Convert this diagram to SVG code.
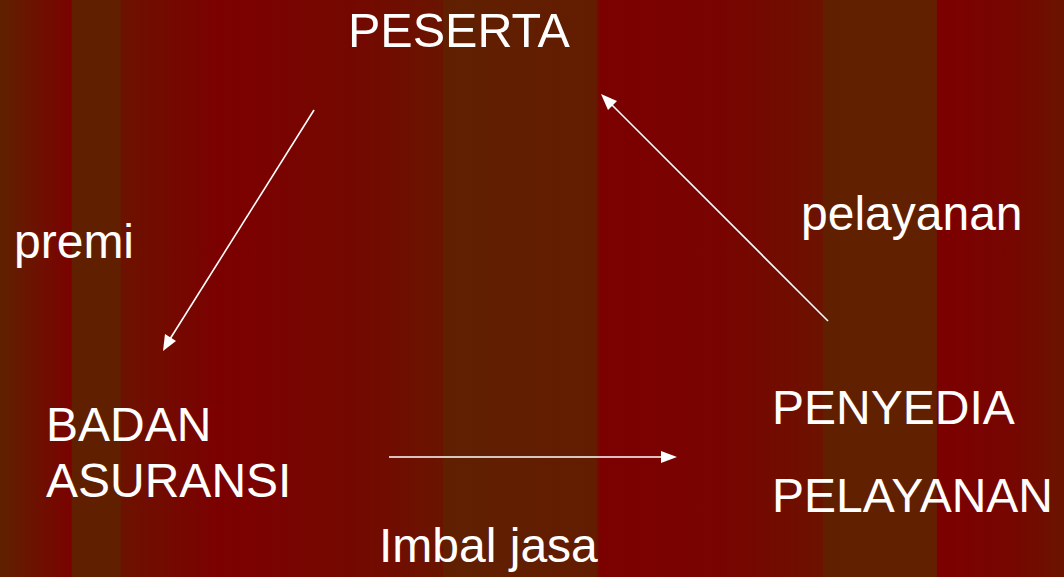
<svg xmlns="http://www.w3.org/2000/svg" width="1064" height="577" viewBox="0 0 1064 577">
<defs>
<linearGradient id="bg" gradientUnits="userSpaceOnUse" x1="0" y1="0" x2="1064" y2="0">
<stop offset="0" stop-color="#602000"/>
<stop offset="0.003" stop-color="#602000"/>
<stop offset="0.067" stop-color="#7a0200"/>
<stop offset="0.068" stop-color="#602000"/>
<stop offset="0.113" stop-color="#602000"/>
<stop offset="0.114" stop-color="#6c1200"/>
<stop offset="0.21" stop-color="#7c0000"/>
<stop offset="0.33" stop-color="#740800"/>
<stop offset="0.416" stop-color="#6a1400"/>
<stop offset="0.417" stop-color="#602000"/>
<stop offset="0.56" stop-color="#631c00"/>
<stop offset="0.564" stop-color="#7c0000"/>
<stop offset="0.68" stop-color="#780400"/>
<stop offset="0.773" stop-color="#6c1200"/>
<stop offset="0.774" stop-color="#602000"/>
<stop offset="0.88" stop-color="#622000"/>
<stop offset="0.881" stop-color="#7c0000"/>
<stop offset="0.95" stop-color="#760600"/>
<stop offset="1" stop-color="#6a1400"/>
</linearGradient>
<style>
.t{font-family:"Liberation Sans",Arial,sans-serif;font-size:48px;fill:#fff}
.p{font-size:48.5px}
.c{stroke:#fff;stroke-width:1.6;fill:none}
.h{fill:#fff}
</style>
</defs>
<rect width="1064" height="577" fill="url(#bg)"/>
<g id="peserta"><text class="t p" x="348" y="47">PESERTA</text></g>
<g id="badan"><text class="t" x="46" y="441">BADAN</text><text class="t" x="46" y="497">ASURANSI</text></g>
<g id="penyedia"><text class="t" x="772" y="424">PENYEDIA</text><text class="t" x="772" y="512">PELAYANAN</text></g>
<g id="labels">
<text class="t" x="14" y="258">premi</text>
<text class="t" x="801" y="230">pelayanan</text>
<text class="t" x="379" y="562">Imbal jasa</text>
</g>
<g id="connectors">
<line class="c" x1="314" y1="110" x2="170" y2="339"/>
<polygon class="h" points="163,351 165,334 176,341"/>
<line class="c" x1="828" y1="321" x2="610" y2="103"/>
<polygon class="h" points="601,94 617,101 608,110"/>
<line class="c" x1="389" y1="457" x2="664" y2="457"/>
<polygon class="h" points="677,457 661,451 661,463"/>
</g>
</svg>
